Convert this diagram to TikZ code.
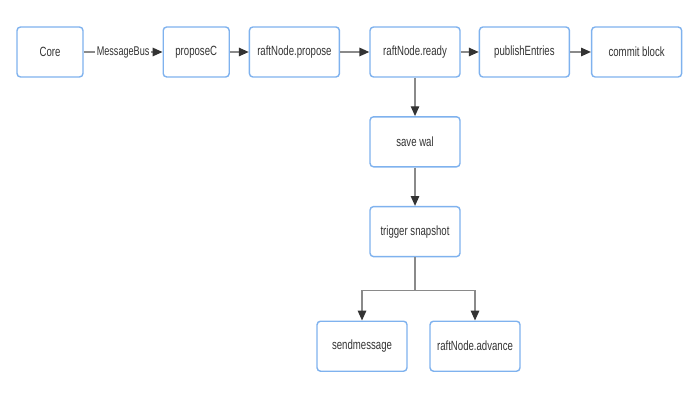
\documentclass[tikz,border=0pt]{standalone}
\usepackage{xcolor}
\usepackage{fontspec}
\newfontfamily\flowfont{Liberation Sans}[FakeStretch=0.72]
\usepackage{tikz}
\usetikzlibrary{calc,arrows.meta}
\usetikzlibrary{positioning}
\definecolor{boxblue}{HTML}{7FB2EE}
\definecolor{linegray}{HTML}{8A8A8A}
\definecolor{tipgray}{HTML}{333333}
\definecolor{textgray}{HTML}{333333}

\begin{document}
\begin{tikzpicture}[
        box/.style={draw=boxblue, line width=1pt, rounded corners=2.5pt, fill=white,
            minimum width=2.25cm, minimum height=1.25cm, align=center,
            text=textgray, font=\flowfont\fontsize{9.5}{11}\selectfont},
        smallbox/.style={box, minimum width=1.65cm},
        flow/.style={draw=linegray, line width=1pt,
            -{Triangle[length=7pt,width=6pt,color=tipgray]}}
    ]
        \useasboundingbox (0,0) rectangle (17.5,-10);

        \node[smallbox] (core) at (1.25,-1.3) {Core};
        \node[smallbox, right=1.97cm of core] (proposec) {proposeC};
        \node[box, right=0.47cm of proposec] (propose) {raftNode.propose};
        \node[box, right=0.73cm of propose] (ready) {raftNode.ready};
        \node[box, right=0.45cm of ready] (publish) {publishEntries};
        \node[box, right=0.52cm of publish] (commit) {commit block};

        \node[box, below=0.96cm of ready] (wal) {save wal};
        \node[box, below=0.96cm of wal] (trigger) {trigger snapshot};
        \node[box, below=1.58cm of trigger, xshift=-1.325cm] (send) {sendmessage};
        \node[box, below=1.58cm of trigger, xshift=1.5cm] (advance) {raftNode.advance};

        \draw[flow] (core) -- node[fill=white, inner sep=1pt, text=textgray,
            font=\flowfont\fontsize{9}{11}\selectfont]{MessageBus} (proposec);
        \draw[flow] (proposec) -- (propose);
        \draw[flow] (propose) -- (ready);
        \draw[flow] (ready) -- (publish);
        \draw[flow] (publish) -- (commit);
        \draw[flow] (ready) -- (wal);
        \draw[flow] (wal) -- (trigger);
        \draw[flow] (trigger.south) -- ++(0,-0.825) -| (send.north);
        \draw[flow] (trigger.south) -- ++(0,-0.825) -| (advance.north);
    \end{tikzpicture}
\end{document}
